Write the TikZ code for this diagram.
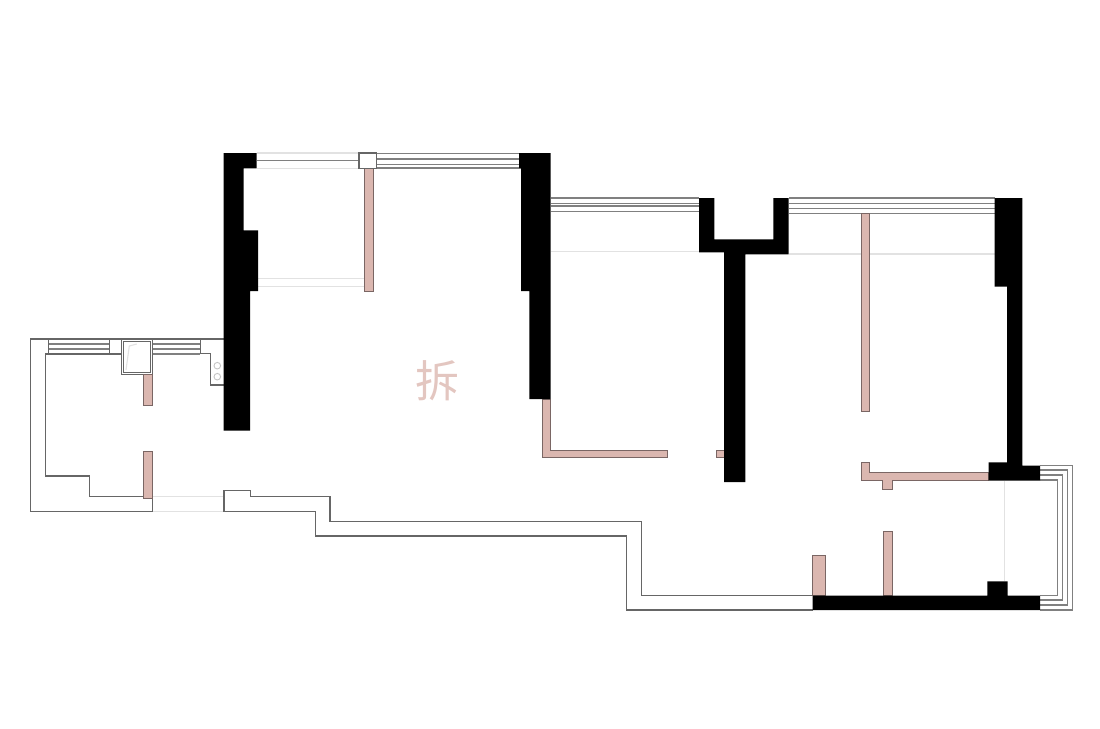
\documentclass[tikz,border=0pt]{standalone}
\usepackage{fontspec}
\newfontfamily\cjk{Noto Sans CJK SC}
\definecolor{pinkfill}{HTML}{DBB7B0}
\definecolor{pinkline}{HTML}{7A6664}
\definecolor{sashline}{HTML}{808080}
\definecolor{faintline}{HTML}{E2E2E2}
\definecolor{stampcolor}{HTML}{E3C6C0}
\tikzset{
  bearing/.style={fill=black},
  partition/.style={fill=pinkfill,draw=pinkline,line width=1pt},
  sash/.style={draw=sashline,line width=1.2pt},
  outline/.style={draw=black!60,line width=1.2pt},
  faint/.style={draw=faintline,line width=1.1pt}
}
\begin{document}
\begin{tikzpicture}[x=1pt,y=-1pt]
\useasboundingbox (0,0) rectangle (1100,728);
\draw[faint] (257,153) -- (359,153);
\draw[faint] (257,168.3) -- (359,168.3);
\draw[faint] (258,278.3) -- (365,278.3);
\draw[faint] (258,286.3) -- (365,286.3);
\draw[faint] (551,251.7) -- (699,251.7);
\draw[faint] (789,254) -- (995,254);
\draw[faint] (1004.7,481) -- (1004.7,581);
\draw[faint] (153,496.7) -- (224,496.7);
\draw[faint] (153,511.7) -- (224,511.7);
\draw[sash] (257,160.7) -- (359,160.7);
\draw[sash] (377,153.5) -- (519,153.5);
\draw[sash] (377,159) -- (519,159);
\draw[sash] (377,164.3) -- (519,164.3);
\draw[sash] (377,168) -- (521,168);
\draw[sash] (551,198) -- (699,198);
\draw[sash] (551,203.3) -- (699,203.3);
\draw[sash] (551,206) -- (699,206);
\draw[sash] (551,211.3) -- (699,211.3);
\draw[sash] (789,198) -- (995,198);
\draw[sash] (789,203.3) -- (995,203.3);
\draw[sash] (789,208.3) -- (995,208.3);
\draw[sash] (789,213.3) -- (995,213.3);
\draw[sash] (1040,465.7) -- (1072.3,465.7) -- (1072.3,610) -- (1040,610);
\draw[sash] (1040,470) -- (1067.3,470) -- (1067.3,605) -- (1040,605);
\draw[sash] (1040,475) -- (1062.3,475) -- (1062.3,600) -- (1040,600);
\draw[sash] (1040,480) -- (1057.3,480) -- (1057.3,595.3) -- (1040,595.3);
\draw[sash] (48.3,344) -- (109.3,344);
\draw[sash] (48.3,349) -- (109.3,349);
\draw[sash] (152.7,344) -- (200.3,344);
\draw[sash] (152.7,349) -- (200.3,349);
\draw[sash] (152.7,354) -- (200.3,354);
\draw[outline] (143.3,496.7) -- (89.3,496.7) -- (89.3,476) -- (45.3,476) -- (45.3,354) -- (121.3,354);
\draw[outline] (152.7,511.7) -- (30.3,511.7) -- (30.3,339) -- (223.7,339);
\draw[outline] (48.3,339) -- (48.3,354);
\draw[outline] (109.3,339) -- (109.3,354);
\draw[outline,fill=white] (121.3,339) rectangle (152.7,374.7);
\draw[outline,fill=white] (123.7,341.7) rectangle (150.7,372.3);
\draw[faint] (126,370) -- (129.3,346) -- (136.7,344);
\draw[outline] (200.3,339) -- (200.3,353.7) -- (210.3,353.7) -- (210.3,385) -- (223.7,385);
\draw[faintline!70!gray,line width=0.9pt] (217.3,365.7) circle (3.3);
\draw[faintline!70!gray,line width=0.9pt] (217.3,376.7) circle (3.3);
\draw[outline] (224,511.7) -- (224,490.7) -- (250.3,490.7) -- (250.3,496.7) -- (330,496.7) -- (330,521.5) -- (641.7,521.5) -- (641.7,595.7) -- (812.7,595.7);
\draw[outline] (224,511.7) -- (315.3,511.7) -- (315.3,536) -- (626.7,536) -- (626.7,610) -- (812.7,610);
\draw[outline] (152.7,498) -- (152.7,511.7);
\draw[partition] (364.7,168.5) rectangle (373.7,291);
\draw[outline,fill=white] (359,153) rectangle (376.7,168.5);
\draw[partition] (143.3,374.7) rectangle (152.7,405.3);
\draw[partition] (143.3,451) rectangle (152.7,498);
\draw[partition] (542,399) -- (550.3,399) -- (550.3,450) -- (667.3,450) -- (667.3,457.3) -- (542,457.3) -- cycle;
\draw[partition] (716.3,450) rectangle (724,457.3);
\draw[partition] (861.3,213.3) rectangle (869.3,411);
\draw[partition] (861.3,462.3) -- (869,462.3) -- (869,472.7) -- (988.7,472.7) -- (988.7,480.7) -- (892.3,480.7) -- (892.3,489.3) -- (882.3,489.3) -- (882.3,480.7) -- (861.3,480.7) -- cycle;
\draw[partition] (883.7,531.3) rectangle (892.3,595.3);
\draw[partition] (812.7,555) rectangle (825,595.7);
\fill[bearing] (223.5,153) -- (256.7,153) -- (256.7,168.3) -- (243.7,168.3) -- (243.7,230.3) -- (258,230.3) -- (258,291) -- (250,291) -- (250,430.7) -- (223.5,430.7) -- cycle;
\fill[bearing] (519,153) -- (550.7,153) -- (550.7,399) -- (529.3,399) -- (529.3,291) -- (521,291) -- (521,168) -- (519,168) -- cycle;
\fill[bearing] (699,198) -- (714.3,198) -- (714.3,239.3) -- (773.3,239.3) -- (773.3,198) -- (788.7,198) -- (788.7,254.3) -- (745.3,254.3) -- (745.3,482) -- (724,482) -- (724,252.3) -- (699,252.3) -- cycle;
\fill[bearing] (994.7,198) -- (1022.3,198) -- (1022.3,465.7) -- (1040,465.7) -- (1040,480.7) -- (988.7,480.7) -- (988.7,462.3) -- (1007,462.3) -- (1007,286.7) -- (994.7,286.7) -- cycle;
\fill[bearing] (812.7,595.5) -- (987.3,595.5) -- (987.3,581.3) -- (1007.7,581.3) -- (1007.7,595.5) -- (1040,595.5) -- (1040,610) -- (812.7,610) -- cycle;
\node[color=stampcolor,font=\cjk\fontsize{44}{44}\selectfont,inner sep=0pt] (chai) at (437.5,381) {拆};
\end{tikzpicture}
\end{document}
